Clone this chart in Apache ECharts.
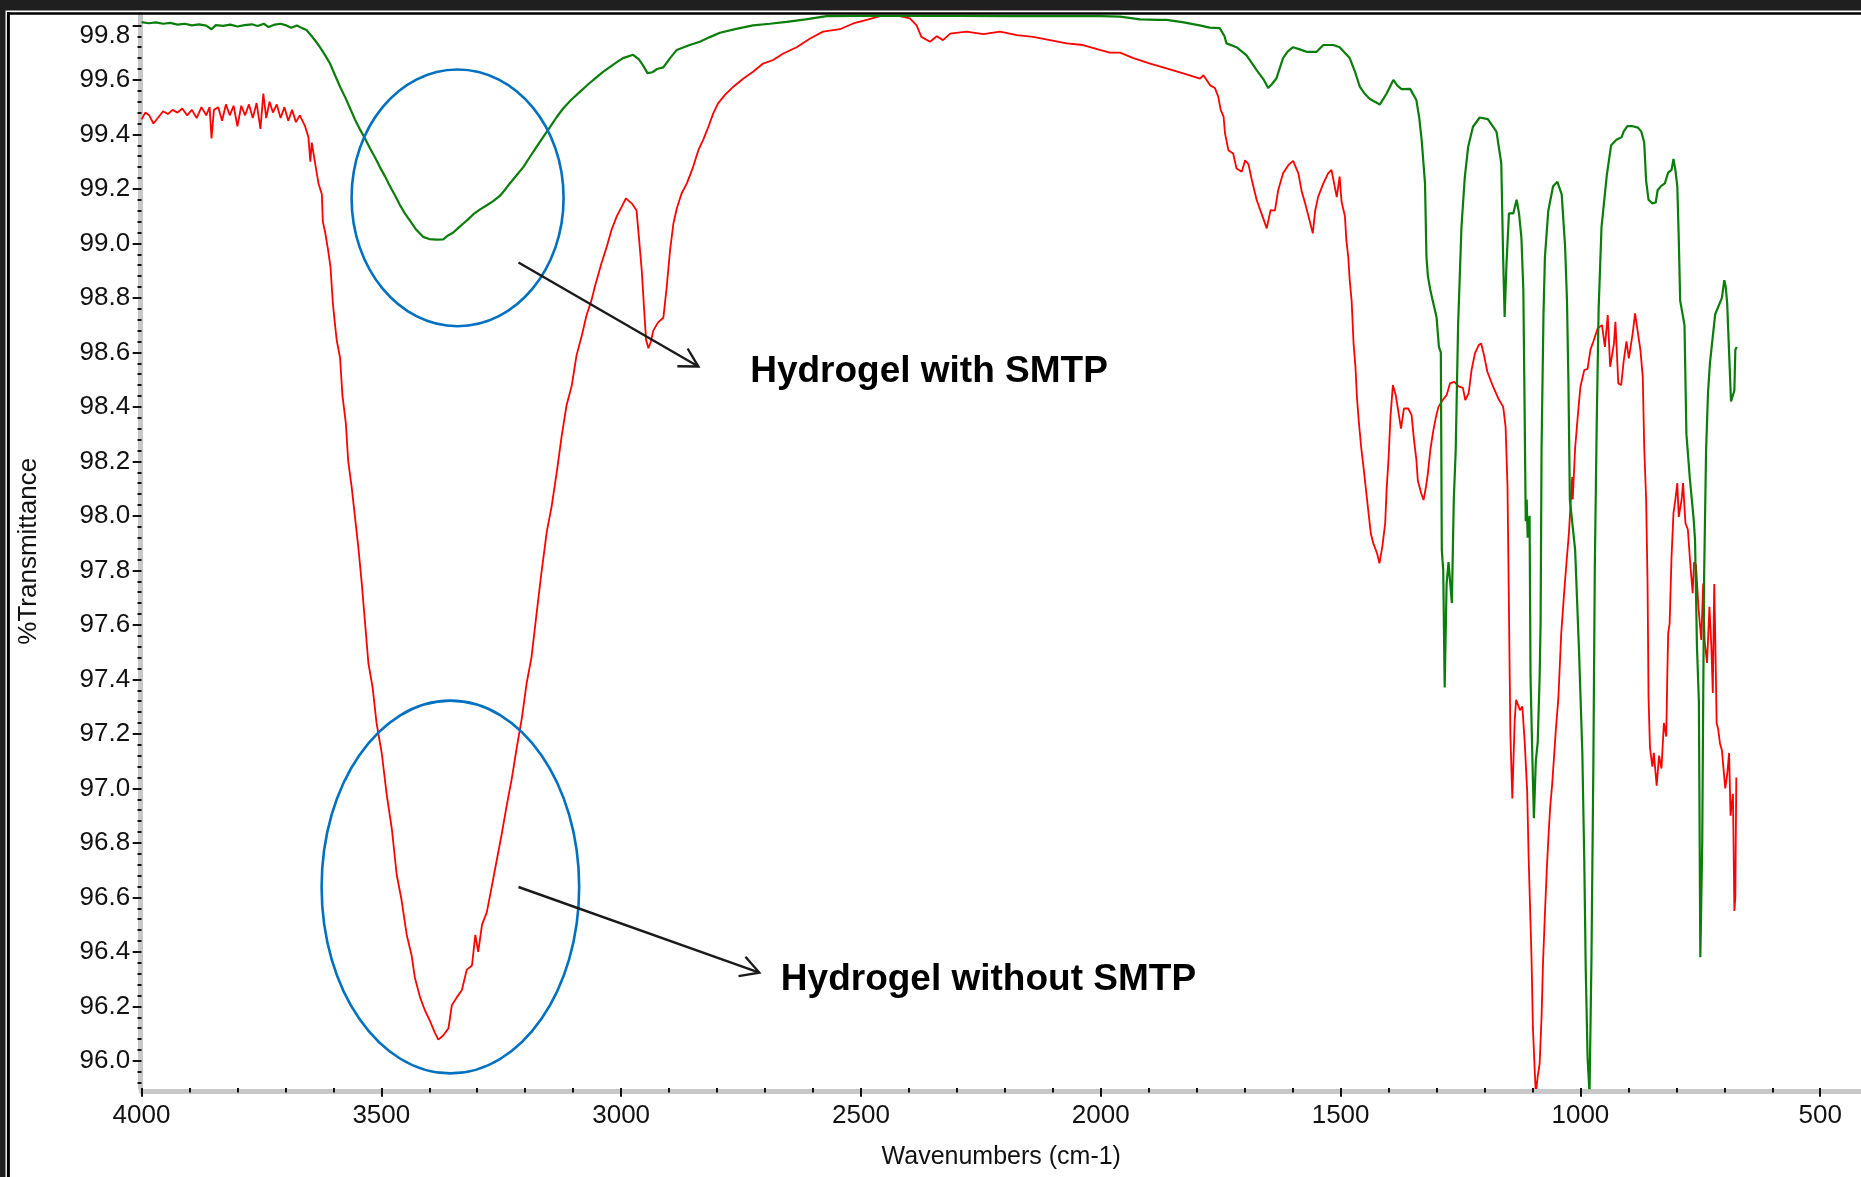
<!DOCTYPE html>
<html lang="en">
  <head>
    <meta charset="utf-8" />
    <title>FTIR - Hydrogel</title>
    <style>
      * {
        margin: 0;
        padding: 0;
      }
      #chart-container {
        position: relative;
        height: 100vh;
        width: 100vw;
        overflow: hidden;
        background: #fff;
      }
    </style>
  </head>
  <body>
    <div id="chart-container"></div>
    <script src="https://fastly.jsdelivr.net/npm/echarts@6/dist/echarts.min.js"></script>
    <script>
      // spectra, [wavenumber, %T]
      const withSmtp = [
        [4000, 99.812], [3985, 99.808], [3970, 99.811], [3955, 99.806], [3940, 99.809], [3925, 99.803],
        [3910, 99.806], [3895, 99.8], [3880, 99.804], [3865, 99.799], [3854, 99.786], [3845, 99.801],
        [3830, 99.798], [3815, 99.803], [3800, 99.796], [3785, 99.801], [3770, 99.804], [3758, 99.798],
        [3745, 99.806], [3735, 99.794], [3722, 99.803], [3710, 99.806], [3698, 99.8], [3688, 99.791],
        [3676, 99.8], [3665, 99.79], [3656, 99.783], [3645, 99.76], [3636, 99.74], [3628, 99.72],
        [3617, 99.69], [3607, 99.66], [3596, 99.615], [3586, 99.575], [3575, 99.535], [3565, 99.495],
        [3555, 99.455], [3545, 99.42], [3534, 99.385], [3524, 99.35], [3513, 99.315], [3503, 99.28],
        [3492, 99.245], [3482, 99.21], [3471, 99.175], [3461, 99.14], [3451, 99.11], [3441, 99.085],
        [3427, 99.05], [3413, 99.024], [3400, 99.016], [3385, 99.014], [3371, 99.015], [3360, 99.03],
        [3350, 99.04], [3340, 99.056], [3329, 99.073], [3318, 99.09], [3308, 99.107], [3294, 99.125],
        [3280, 99.14], [3266, 99.156], [3253, 99.174], [3243, 99.195], [3232, 99.22], [3218, 99.25],
        [3204, 99.28], [3190, 99.318], [3176, 99.355], [3162, 99.392], [3148, 99.428], [3135, 99.462],
        [3121, 99.495], [3104, 99.527], [3086, 99.556], [3068, 99.585], [3051, 99.61], [3037, 99.63],
        [3023, 99.648], [3009, 99.665], [2996, 99.68], [2975, 99.692], [2963, 99.675], [2955, 99.655],
        [2945, 99.625], [2935, 99.628], [2925, 99.64], [2912, 99.646], [2898, 99.68], [2884, 99.71],
        [2860, 99.726], [2836, 99.74], [2815, 99.757], [2794, 99.773], [2760, 99.787], [2725, 99.8],
        [2690, 99.806], [2655, 99.813], [2615, 99.822], [2572, 99.834], [2500, 99.835], [2400, 99.835],
        [2300, 99.835], [2200, 99.834], [2100, 99.834], [2000, 99.834], [1960, 99.832], [1918, 99.822],
        [1880, 99.82], [1863, 99.82], [1830, 99.812], [1794, 99.8], [1773, 99.792], [1752, 99.79],
        [1742, 99.76], [1738, 99.734], [1717, 99.72], [1696, 99.69], [1675, 99.636], [1660, 99.6],
        [1651, 99.57], [1643, 99.585], [1634, 99.605], [1620, 99.68], [1610, 99.705], [1599, 99.72],
        [1585, 99.712], [1571, 99.703], [1550, 99.703], [1536, 99.728], [1515, 99.728], [1502, 99.72],
        [1481, 99.68], [1470, 99.63], [1460, 99.575], [1450, 99.55], [1439, 99.53], [1418, 99.51],
        [1404, 99.55], [1390, 99.6], [1382, 99.58], [1373, 99.566], [1355, 99.567], [1342, 99.526],
        [1336, 99.46], [1331, 99.38], [1324, 99.22], [1321, 98.95], [1318, 98.88], [1313, 98.83],
        [1308, 98.79], [1300, 98.73], [1295, 98.62], [1291, 98.6], [1289, 97.875], [1286, 97.8],
        [1283, 97.37], [1279, 97.75], [1275, 97.83], [1268, 97.68], [1264, 98.06], [1260, 98.24],
        [1255, 98.7], [1248, 99.06], [1241, 99.244], [1234, 99.355], [1224, 99.428], [1210, 99.462],
        [1193, 99.456], [1175, 99.41], [1165, 99.294], [1161, 98.94], [1158, 98.73], [1154, 98.93],
        [1149, 99.11], [1140, 99.11], [1133, 99.16], [1128, 99.11], [1123, 99.02], [1119, 98.83],
        [1117, 98.5], [1114, 97.98], [1112, 98.06], [1110, 97.92], [1106, 98.0], [1104, 97.41],
        [1100, 97.1], [1097, 96.89], [1093, 97.1], [1089, 97.17], [1085, 97.41], [1083, 97.61],
        [1081, 98.25], [1077, 98.74], [1074, 98.95], [1067, 99.12], [1057, 99.21], [1048, 99.226],
        [1039, 99.18], [1032, 98.99], [1028, 98.79], [1025, 98.49], [1022, 98.06], [1011, 97.875],
        [1003, 97.51], [996, 97.13], [992, 96.74], [989, 96.345], [985, 96.01], [981, 95.88],
        [977, 96.37], [973, 97.09], [970, 97.81], [966, 98.34], [962, 98.76], [956, 99.06],
        [945, 99.25], [936, 99.36], [925, 99.38], [914, 99.39], [910, 99.41], [902, 99.43],
        [891, 99.43], [880, 99.425], [873, 99.41], [867, 99.37], [863, 99.23], [858, 99.16],
        [850, 99.147], [843, 99.15], [839, 99.195], [832, 99.21], [824, 99.22], [817, 99.26],
        [810, 99.27], [806, 99.31], [802, 99.27], [798, 99.21], [795, 99.02], [792, 98.79],
        [783, 98.7], [779, 98.3], [772, 98.14], [764, 97.99], [761, 97.91], [757, 97.52],
        [753, 97.32], [750, 96.38], [746, 96.8], [744, 97.32], [742, 97.79], [738, 98.24],
        [734, 98.45], [730, 98.56], [719, 98.74], [705, 98.8], [700, 98.865], [697, 98.84],
        [694, 98.78], [690, 98.6], [686, 98.42], [679, 98.46], [677, 98.61], [674, 98.62]
      ];

      const withoutSmtp = [
        [4000, 99.455], [3992, 99.48], [3984, 99.47], [3975, 99.44], [3966, 99.46], [3955, 99.485],
        [3945, 99.475], [3935, 99.49], [3925, 99.48], [3915, 99.495], [3905, 99.47], [3895, 99.49],
        [3885, 99.46], [3875, 99.5], [3865, 99.47], [3858, 99.5], [3854, 99.385], [3849, 99.49],
        [3840, 99.5], [3832, 99.45], [3824, 99.51], [3816, 99.47], [3808, 99.505], [3800, 99.43],
        [3792, 99.505], [3784, 99.47], [3776, 99.51], [3768, 99.46], [3760, 99.515], [3752, 99.42],
        [3746, 99.55], [3740, 99.46], [3733, 99.52], [3726, 99.48], [3718, 99.51], [3710, 99.46],
        [3702, 99.5], [3694, 99.45], [3686, 99.49], [3678, 99.445], [3670, 99.47], [3659, 99.43],
        [3652, 99.39], [3648, 99.3], [3645, 99.37], [3638, 99.294], [3631, 99.22], [3624, 99.18],
        [3622, 99.08], [3617, 99.04], [3611, 98.975], [3606, 98.914], [3601, 98.78], [3597, 98.71],
        [3593, 98.645], [3586, 98.58], [3581, 98.44], [3574, 98.34], [3569, 98.2], [3562, 98.108],
        [3555, 97.997], [3548, 97.886], [3541, 97.757], [3534, 97.609], [3527, 97.46], [3518, 97.368],
        [3510, 97.24], [3499, 97.128], [3489, 96.98], [3478, 96.85], [3468, 96.684], [3458, 96.592],
        [3447, 96.462], [3437, 96.388], [3430, 96.305], [3419, 96.232], [3409, 96.185], [3399, 96.148],
        [3388, 96.102], [3381, 96.078], [3371, 96.093], [3360, 96.12], [3353, 96.204], [3343, 96.232],
        [3332, 96.26], [3322, 96.334], [3311, 96.35], [3304, 96.462], [3298, 96.4], [3290, 96.5],
        [3280, 96.546], [3269, 96.647], [3259, 96.74], [3249, 96.832], [3238, 96.943], [3228, 97.036],
        [3218, 97.146], [3207, 97.258], [3197, 97.386], [3187, 97.48], [3176, 97.646], [3166, 97.794],
        [3155, 97.942], [3145, 98.034], [3134, 98.163], [3124, 98.293], [3114, 98.404], [3103, 98.478],
        [3093, 98.589], [3082, 98.662], [3072, 98.737], [3062, 98.79], [3055, 98.84], [3041, 98.927],
        [3030, 98.988], [3020, 99.05], [3009, 99.1], [2999, 99.134], [2990, 99.165], [2978, 99.147],
        [2968, 99.122], [2963, 99.024], [2957, 98.9], [2952, 98.755], [2948, 98.645], [2943, 98.615],
        [2938, 98.64], [2933, 98.68], [2923, 98.71], [2912, 98.727], [2905, 98.84], [2898, 98.975],
        [2891, 99.073], [2884, 99.128], [2874, 99.183], [2863, 99.22], [2850, 99.28], [2839, 99.342],
        [2829, 99.38], [2818, 99.428], [2808, 99.477], [2798, 99.514], [2784, 99.544], [2766, 99.575],
        [2745, 99.605], [2725, 99.63], [2704, 99.66], [2683, 99.673], [2662, 99.697], [2634, 99.72],
        [2606, 99.752], [2579, 99.777], [2544, 99.786], [2516, 99.807], [2488, 99.82], [2460, 99.834],
        [2419, 99.834], [2398, 99.826], [2384, 99.8], [2374, 99.758], [2356, 99.74], [2342, 99.76],
        [2329, 99.746], [2314, 99.77], [2280, 99.777], [2245, 99.768], [2210, 99.777], [2175, 99.764],
        [2141, 99.758], [2106, 99.746], [2071, 99.734], [2037, 99.728], [2002, 99.71], [1981, 99.7],
        [1960, 99.7], [1932, 99.68], [1897, 99.66], [1863, 99.642], [1828, 99.624], [1793, 99.605],
        [1786, 99.617], [1772, 99.58], [1762, 99.57], [1755, 99.538], [1750, 99.49], [1744, 99.465],
        [1741, 99.404], [1734, 99.342], [1724, 99.33], [1717, 99.275], [1706, 99.263], [1699, 99.305],
        [1692, 99.29], [1685, 99.232], [1675, 99.159], [1665, 99.11], [1654, 99.055], [1646, 99.122],
        [1637, 99.12], [1630, 99.196], [1620, 99.257], [1609, 99.287], [1599, 99.303], [1588, 99.257],
        [1581, 99.19], [1574, 99.147], [1567, 99.1], [1558, 99.037], [1553, 99.12], [1547, 99.17],
        [1536, 99.22], [1526, 99.257], [1519, 99.27], [1508, 99.17], [1502, 99.245], [1498, 99.153],
        [1491, 99.1], [1488, 99.012], [1484, 98.95], [1481, 98.865], [1477, 98.79], [1473, 98.634],
        [1469, 98.547], [1466, 98.437], [1462, 98.345], [1457, 98.25], [1452, 98.175], [1447, 98.095],
        [1442, 98.015], [1437, 97.936], [1432, 97.9], [1424, 97.863], [1419, 97.826], [1413, 97.887],
        [1407, 97.973], [1404, 98.1], [1400, 98.21], [1396, 98.364], [1391, 98.48], [1385, 98.443],
        [1379, 98.376], [1374, 98.32], [1368, 98.394], [1359, 98.394], [1352, 98.37], [1347, 98.28],
        [1342, 98.205], [1339, 98.13], [1332, 98.083], [1327, 98.058], [1322, 98.107], [1318, 98.156],
        [1313, 98.24], [1307, 98.31], [1301, 98.364], [1296, 98.4], [1287, 98.425], [1279, 98.443],
        [1272, 98.486], [1263, 98.492], [1253, 98.474], [1245, 98.47], [1240, 98.425], [1233, 98.45],
        [1227, 98.535], [1220, 98.596], [1212, 98.627], [1207, 98.633], [1201, 98.59], [1194, 98.529],
        [1182, 98.474], [1171, 98.43], [1161, 98.4], [1156, 98.327], [1152, 98.107], [1149, 97.655],
        [1146, 97.2], [1142, 96.963], [1137, 97.25], [1134, 97.325], [1126, 97.287], [1121, 97.3],
        [1116, 97.165], [1111, 96.99], [1108, 96.749], [1102, 96.382], [1099, 96.12], [1095, 95.955],
        [1093, 95.88], [1089, 95.942], [1085, 95.99], [1081, 96.162], [1078, 96.358], [1074, 96.54],
        [1070, 96.706], [1067, 96.81], [1063, 96.932], [1059, 97.012], [1055, 97.116], [1051, 97.22],
        [1046, 97.33], [1040, 97.569], [1034, 97.716], [1029, 97.83], [1024, 97.936], [1020, 98.058],
        [1017, 98.143], [1016, 98.06], [1011, 98.25], [1005, 98.376], [1000, 98.474], [992, 98.535],
        [985, 98.54], [979, 98.61], [973, 98.64], [964, 98.688], [955, 98.7], [949, 98.62],
        [943, 98.737], [938, 98.547], [930, 98.633], [927, 98.712], [921, 98.486], [915, 98.48],
        [910, 98.565], [904, 98.64], [899, 98.578], [891, 98.67], [886, 98.743], [880, 98.67],
        [875, 98.61], [870, 98.51], [867, 98.254], [863, 98.06], [860, 97.752], [858, 97.336],
        [855, 97.15], [850, 97.08], [847, 97.13], [841, 97.01], [836, 97.12], [831, 97.073],
        [826, 97.24], [821, 97.19], [819, 97.4], [817, 97.57], [814, 97.605], [810, 97.85],
        [806, 98.01], [802, 98.06], [798, 98.12], [795, 97.996], [789, 98.06], [786, 98.12],
        [781, 97.973], [776, 97.95], [771, 97.826], [766, 97.716], [763, 97.83], [759, 97.82],
        [754, 97.666], [748, 97.545], [744, 97.752], [741, 97.54], [736, 97.46], [731, 97.666],
        [727, 97.52], [724, 97.35], [721, 97.75], [719, 97.57], [716, 97.24], [713, 97.22],
        [709, 97.165], [705, 97.14], [698, 97.0], [694, 97.05], [690, 97.13], [687, 96.9],
        [682, 96.98], [679, 96.55], [677, 96.6], [675, 97.04]
      ];

      const xTickLabels = [4000, 3500, 3000, 2500, 2000, 1500, 1000, 500];
      const yTickLabels = [
        96.0, 96.2, 96.4, 96.6, 96.8, 97.0, 97.2, 97.4, 97.6, 97.8,
        98.0, 98.2, 98.4, 98.6, 98.8, 99.0, 99.2, 99.4, 99.6, 99.8
      ];

      // annotations, in data coordinates
      const ellipses = [
        { center: [3341, 99.167], rx: 221, ry: 0.471 },
        { center: [3356, 96.638], rx: 268.5, ry: 0.684 }
      ];
      const arrows = [
        { from: [3214, 98.93], to: [2839, 98.548] },
        { from: [3214, 96.638], to: [2712, 96.324] }
      ];
      const notes = [
        { text: "Hydrogel with SMTP", at: [2731, 98.547] },
        { text: "Hydrogel without SMTP", at: [2667, 96.315] }
      ];

      const xMinor = [];
      for (let v = 500; v <= 4000; v += 100) xMinor.push(v);
      const yMinor = [];
      for (let i = 0; i <= 97; i++) yMinor.push(Math.round((95.92 + i * 0.04) * 100) / 100);

      const font = "Liberation Sans";
      const tickStyle = { color: "#111", width: 2 };

      var dom = document.getElementById("chart-container");
      var myChart = echarts.init(dom, null, { renderer: "canvas" });

      var option = {
        animation: false,
        backgroundColor: "#fff",
        grid: { left: 141.5, top: 14.5, right: 0, bottom: 88.9, containLabel: false },
        xAxis: [
          {
            type: "value",
            inverse: true,
            min: 415,
            max: 4000,
            position: "bottom",
            offset: 2.7,
            axisLine: { show: true, onZero: false, lineStyle: { color: "#c8c8c8", width: 5 } },
            axisTick: { show: true, customValues: xTickLabels, length: 6, lineStyle: tickStyle },
            axisLabel: {
              customValues: xTickLabels,
              margin: 12,
              fontSize: 26,
              color: "#111",
              fontFamily: font,
              formatter: function (v) {
                return String(v);
              }
            },
            splitLine: { show: false },
            name: "Wavenumbers (cm-1)",
            nameLocation: "middle",
            nameGap: 54,
            nameTextStyle: { fontSize: 25, color: "#111", fontFamily: font }
          },
          {
            type: "value",
            inverse: true,
            min: 415,
            max: 4000,
            position: "bottom",
            offset: 0,
            axisLine: { show: false, onZero: false },
            axisTick: { show: true, customValues: xMinor, length: 4.5, lineStyle: tickStyle },
            axisLabel: { show: false },
            splitLine: { show: false }
          }
        ],
        yAxis: [
          {
            type: "value",
            min: 95.9,
            max: 99.84,
            position: "left",
            offset: 1.3,
            axisLine: { show: true, onZero: false, lineStyle: { color: "#c8c8c8", width: 5 } },
            axisTick: { show: true, customValues: yTickLabels, length: 7.5, lineStyle: tickStyle },
            axisLabel: {
              customValues: yTickLabels,
              margin: 10,
              fontSize: 26,
              color: "#111",
              fontFamily: font,
              formatter: function (v) {
                return Math.abs(v - 99.8) < 1e-6 ? "{t|99.8}" : v.toFixed(1);
              },
              rich: { t: { padding: [20, 0, 0, 0], fontSize: 26, color: "#111", fontFamily: font } }
            },
            splitLine: { show: false },
            name: "%Transmittance",
            nameLocation: "middle",
            nameGap: 98,
            nameTextStyle: { fontSize: 26, color: "#111", fontFamily: font }
          },
          {
            type: "value",
            min: 95.9,
            max: 99.84,
            position: "left",
            offset: 0,
            axisLine: { show: false, onZero: false },
            axisTick: { show: true, customValues: yMinor, length: 4, lineStyle: tickStyle },
            axisLabel: { show: false },
            splitLine: { show: false }
          }
        ],
        series: [
          {
            name: "Hydrogel without SMTP",
            type: "line",
            xAxisIndex: 0,
            yAxisIndex: 0,
            data: withoutSmtp,
            showSymbol: false,
            lineStyle: { color: "#ff0000", width: 1.8 },
            z: 2
          },
          {
            name: "Hydrogel with SMTP",
            type: "line",
            xAxisIndex: 0,
            yAxisIndex: 0,
            data: withSmtp,
            showSymbol: false,
            lineStyle: { color: "#0a7d0a", width: 2.2 },
            z: 3
          }
        ]
      };
      myChart.setOption(option);

      // frame and annotations, placed through the axes
      function px(p) {
        return myChart.convertToPixel({ xAxisIndex: 0, yAxisIndex: 0 }, p);
      }
      var graphics = [
        { type: "rect", shape: { x: 0, y: 0, width: 1861, height: 10.5 }, style: { fill: "#1f1f1f" }, z: 200 },
        { type: "rect", shape: { x: 0, y: 0, width: 5.5, height: 1177 }, style: { fill: "#1f1f1f" }, z: 200 },
        { type: "line", shape: { x1: 7, y1: 13.5, x2: 1861, y2: 13.5 }, style: { stroke: "#000", lineWidth: 2.6 }, z: 200 },
        { type: "line", shape: { x1: 8.4, y1: 12, x2: 8.4, y2: 1177 }, style: { stroke: "#000", lineWidth: 3 }, z: 200 }
      ];
      ellipses.forEach(function (e) {
        var c = px(e.center);
        var edge = px([e.center[0] - e.rx, e.center[1] + e.ry]);
        graphics.push({
          type: "ellipse",
          shape: { cx: c[0], cy: c[1], rx: Math.abs(edge[0] - c[0]), ry: Math.abs(c[1] - edge[1]) },
          style: { fill: "none", stroke: "#0070c0", lineWidth: 2.6 },
          z: 100
        });
      });
      arrows.forEach(function (a) {
        var p0 = px(a.from);
        var p1 = px(a.to);
        var ang = Math.atan2(p1[1] - p0[1], p1[0] - p0[0]) + Math.PI;
        var len = 21;
        var spread = 0.51;
        graphics.push({
          type: "line",
          shape: { x1: p0[0], y1: p0[1], x2: p1[0], y2: p1[1] },
          style: { stroke: "#1a1a1a", lineWidth: 2.4 },
          z: 100
        });
        graphics.push({
          type: "polyline",
          shape: {
            points: [
              [p1[0] + len * Math.cos(ang + spread), p1[1] + len * Math.sin(ang + spread)],
              p1,
              [p1[0] + len * Math.cos(ang - spread), p1[1] + len * Math.sin(ang - spread)]
            ]
          },
          style: { stroke: "#1a1a1a", lineWidth: 2.4, fill: "none" },
          z: 100
        });
      });
      notes.forEach(function (n) {
        var p = px(n.at);
        graphics.push({
          type: "text",
          x: p[0],
          y: p[1] + 4.5,
          style: {
            text: n.text,
            font: 'bold 37px "Liberation Sans", Arial, sans-serif',
            fill: "#000",
            align: "left",
            verticalAlign: "middle",
            textAlign: "left",
            textVerticalAlign: "middle"
          },
          z: 100
        });
      });
      myChart.setOption({ graphic: graphics });

      window.addEventListener("resize", myChart.resize);
    </script>
  </body>
</html>
